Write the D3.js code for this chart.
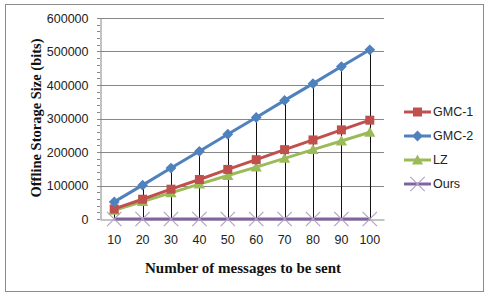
<!DOCTYPE html>
<html>
<head>
<meta charset="utf-8">
<script src="https://cdn.jsdelivr.net/npm/d3@7"></script>
<style>
  body { margin: 0; background: #fff; }
  svg { display: block; }
</style>
</head>
<body>
<svg id="chart" width="489" height="294"></svg>
<script>
"use strict";

// data
const messages = [10, 20, 30, 40, 50, 60, 70, 80, 90, 100];
const gmc1 = [30000, 59000, 89000, 118000, 148000, 177000, 207000, 236000, 266000, 295000];
const gmc2 = [51000, 101000, 152000, 202000, 253000, 303000, 354000, 404000, 455000, 505000];
const lz   = [26000, 52000, 78000, 104000, 130000, 155000, 181000, 207000, 233000, 259000];
const ours = [0, 0, 0, 0, 0, 0, 0, 0, 0, 0];
const yTicks = [0, 100000, 200000, 300000, 400000, 500000, 600000];

const series = [
    { name: "GMC-1", values: gmc1, color: "#C0504D", marker: "square" },
    { name: "GMC-2", values: gmc2, color: "#4F81BD", marker: "diamond" },
    { name: "LZ",    values: lz,   color: "#9BBB59", marker: "triangle" },
    { name: "Ours",  values: ours, color: "#8064A2", marker: "cross" }
];

// layout
const plot = { left: 100, right: 384, top: 18, bottom: 219 };
const tickFont = "Liberation Sans, Arial, sans-serif";
const titleFont = "Liberation Serif, Times New Roman, serif";

const svg = d3.select("#chart");

// outer border
svg.append("rect")
.attr("x", 5.5).attr("y", 4.5)
.attr("width", 478).attr("height", 287)
.attr("fill", "#fff")
.attr("stroke", "#8c8c8c");

// scales
const scaleX = d3.scaleBand()
.domain(messages)
.range([plot.left, plot.right]);

const scaleY = d3.scaleLinear()
.domain([0, 600000])
.range([plot.bottom, plot.top]);

// grid lines
svg.append("g")
.selectAll("line")
.data(yTicks.slice(1))
.join("line")
.attr("x1", plot.left).attr("x2", plot.right)
.attr("y1", d => Math.round(scaleY(d)) + 0.5)
.attr("y2", d => Math.round(scaleY(d)) + 0.5)
.attr("stroke", "#878787");

// y axis
const yAxis = svg.append("g")
.attr("class", "y_axis")
.attr("transform", `translate(${plot.left + 0.5}, 0)`)
.call(d3.axisLeft(scaleY).tickValues(yTicks).tickSize(0).tickPadding(12).tickFormat(d3.format("d")));
yAxis.select(".domain").attr("stroke", "#878787");
yAxis.selectAll("text")
.attr("font-family", tickFont)
.attr("font-size", 12.5)
.attr("fill", "#222");

// minor ticks on y axis
const minor = d3.range(0, 600001, 20000);
svg.append("g")
.selectAll("line")
.data(minor)
.join("line")
.attr("x1", plot.left - 3).attr("x2", plot.left)
.attr("y1", d => Math.round(scaleY(d)) + 0.5)
.attr("y2", d => Math.round(scaleY(d)) + 0.5)
.attr("stroke", "#878787");

// x axis labels
const xAxis = svg.append("g")
.attr("class", "x_axis")
.attr("transform", `translate(0, ${plot.bottom + 0.5})`)
.call(d3.axisBottom(scaleX).tickSize(0).tickPadding(16));
xAxis.select(".domain").attr("stroke", "#878787");
xAxis.selectAll("text")
.attr("font-family", tickFont)
.attr("font-size", 12.5)
.attr("fill", "#222");

const cx = d => scaleX(d) + scaleX.bandwidth() / 2;

// high-low lines
svg.append("g")
.selectAll("line")
.data(messages)
.join("line")
.attr("x1", d => Math.round(cx(d)) + 0.5)
.attr("x2", d => Math.round(cx(d)) + 0.5)
.attr("y1", (d, i) => scaleY(d3.max(series, s => s.values[i])))
.attr("y2", (d, i) => scaleY(d3.min(series, s => s.values[i])))
.attr("stroke", "#111")
.attr("stroke-width", 1);

// markers
function drawMarker(g, type, color, x, y, size) {
    if (type === "square") {
        g.append("rect")
        .attr("x", x - size / 2).attr("y", y - size / 2)
        .attr("width", size).attr("height", size)
        .attr("fill", color);
    } else if (type === "diamond") {
        const s = size * 0.6;
        g.append("path")
        .attr("d", `M${x},${y - s}L${x + s},${y}L${x},${y + s}L${x - s},${y}Z`)
        .attr("fill", color);
    } else if (type === "triangle") {
        const s = size * 0.62;
        g.append("path")
        .attr("d", `M${x},${y - s}L${x + s},${y + s * 0.8}L${x - s},${y + s * 0.8}Z`)
        .attr("fill", color);
    } else if (type === "cross") {
        const s = size * 0.6;
        g.append("path")
        .attr("d", `M${x - s},${y - s}L${x + s},${y + s}M${x + s},${y - s}L${x - s},${y + s}`)
        .attr("stroke", "#b3a2c7")
        .attr("stroke-width", 1.2)
        .attr("fill", "none");
    }
}

const line = d3.line()
.x(d => cx(d.x))
.y(d => scaleY(d.y));

// draw series (Ours first so it sits on the axis, then LZ, GMC-1, GMC-2)
const drawOrder = [3, 2, 0, 1];
drawOrder.forEach(k => {
    const s = series[k];
    const pts = messages.map((m, i) => ({ x: m, y: s.values[i] }));
    const g = svg.append("g").attr("class", "series");
    g.append("path")
    .datum(pts)
    .attr("d", line)
    .attr("fill", "none")
    .attr("stroke", s.color)
    .attr("stroke-width", 3);
    pts.forEach(p => drawMarker(g, s.marker, s.color, cx(p.x), scaleY(p.y), s.marker === "cross" ? 12 : 9));
});

// legend
const legend = svg.append("g").attr("class", "legend");
const legendY = [112, 136, 160, 184];
series.forEach((s, i) => {
    const g = legend.append("g").attr("transform", `translate(404, ${legendY[i]})`);
    g.append("line")
    .attr("x1", 0).attr("x2", 27)
    .attr("y1", 0).attr("y2", 0)
    .attr("stroke", s.color)
    .attr("stroke-width", 3);
    drawMarker(g, s.marker, s.color, 13.5, 0, s.marker === "cross" ? 12 : 9);
    g.append("text")
    .attr("x", 29).attr("y", 0)
    .attr("dy", "0.35em")
    .attr("font-family", tickFont)
    .attr("font-size", 12.5)
    .attr("fill", "#222")
    .text(s.name);
});

// axis titles
svg.append("text")
.attr("transform", `translate(41, 118) rotate(-90)`)
.attr("text-anchor", "middle")
.attr("font-family", titleFont)
.attr("font-weight", "bold")
.attr("font-size", 14.5)
.attr("fill", "#111")
.text("Offline Storage Size (bits)");

svg.append("text")
.attr("x", 243).attr("y", 273)
.attr("text-anchor", "middle")
.attr("font-family", titleFont)
.attr("font-weight", "bold")
.attr("font-size", 15)
.attr("fill", "#111")
.text("Number of messages to be sent");
</script>
</body>
</html>
